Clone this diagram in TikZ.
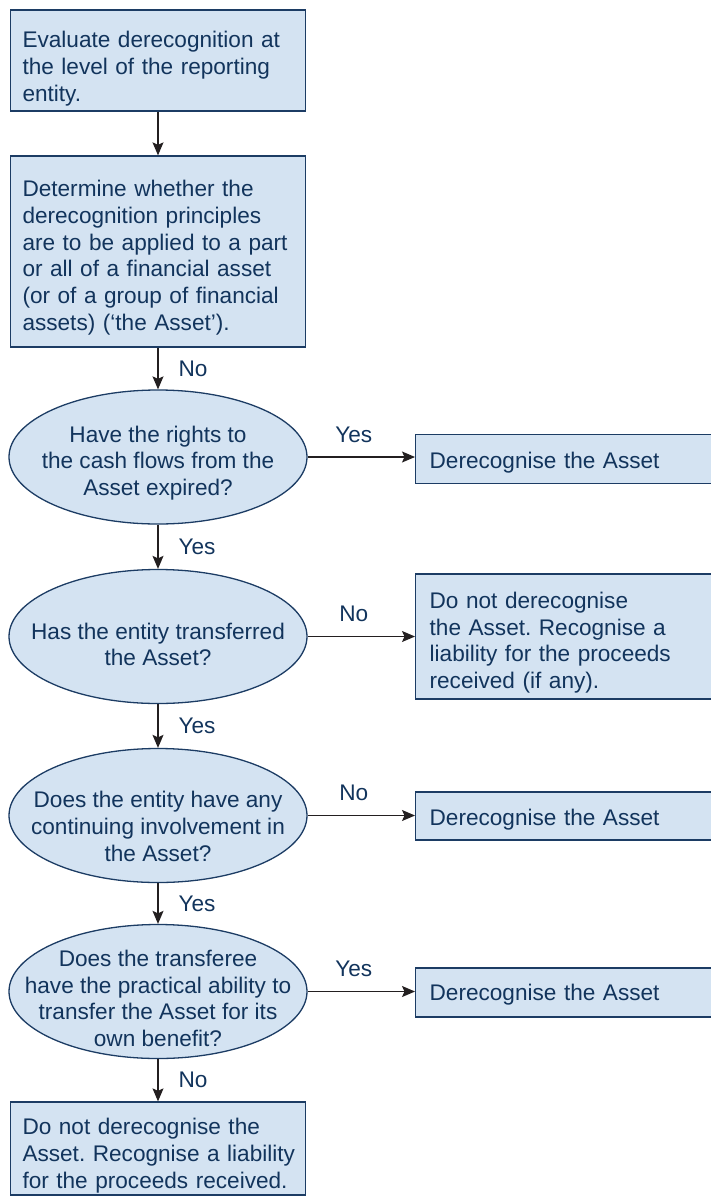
\documentclass[tikz,border=0pt]{standalone}
\usepackage{fontspec}
\setmainfont{Liberation Sans}
\usetikzlibrary{shapes.geometric,arrows.meta}
\definecolor{boxfill}{RGB}{212,227,242}
\definecolor{boxline}{RGB}{28,60,100}
\definecolor{txt}{RGB}{18,52,92}
\definecolor{arrowc}{RGB}{35,31,32}
\begin{document}
\begin{tikzpicture}[x=1pt,y=-1pt,
  every node/.style={font=\fontsize{22.6}{26.7}\selectfont\frenchspacing, text=txt},
  leftbox/.style={draw=boxline, fill=boxfill, line width=1.3pt, rectangle,
    align=left, inner xsep=12pt, inner ysep=0pt, text width=271pt, minimum height=#1},
  rightbox/.style={draw=boxline, fill=boxfill, line width=1.3pt, rectangle, anchor=west,
    align=left, inner xsep=14pt, inner ysep=0pt, text width=272pt, minimum height=#1},
  decision/.style={ellipse, draw=boxline, fill=boxfill, line width=1.3pt,
    minimum width=298pt, minimum height=134pt, inner sep=0pt},
  dectext/.style={align=center, inner sep=0pt},
  arr/.style={draw=arrowc, line width=1.3pt, -{Stealth[length=13pt,width=11pt,inset=2.5pt]}},
  lbl/.style={inner sep=0pt, text=txt}
]
\useasboundingbox (0,0) rectangle (710,1200);

% left column
\node[leftbox=101pt, text height=32.5pt] (b1) at (158,60.5) {Evaluate derecognition at\\the level of the reporting\\entity.};
\node[leftbox=191pt, text height=28.5pt] (b2) at (158,251.5) {Determine whether the\\derecognition principles\\are to be applied to a part\\or all of a financial asset\\(or of a group of financial\\assets) (`the Asset').};
\node[decision] (e1) at (158,457) {};
\node[dectext] (t1) at ([yshift=-6pt]e1.center) {Have the rights to\\the cash flows from the\\Asset expired?};
\node[decision] (e2) at (158,636.5) {};
\node[dectext] (t2) at ([yshift=-8pt]e2.center) {Has the entity transferred\\the Asset?};
\node[decision] (e3) at (158,815.5) {};
\node[dectext] (t3) at ([yshift=-11pt]e3.center) {Does the entity have any\\continuing involvement in\\the Asset?};
\node[decision] (e4) at (158,991.5) {};
\node[dectext] (t4) at ([yshift=-7pt]e4.center) {Does the transferee\\have the practical ability to\\transfer the Asset for its\\own benefit?};
\node[leftbox=93pt, text height=30.5pt] (b3) at (158,1148.5) {Do not derecognise the\\\mbox{Asset. Recognise a liability}\\for the proceeds received.};

% right column
\node[rightbox=49pt, text height=24.5pt] (r1) at (415,459) {Derecognise the Asset};
\node[rightbox=125pt, text height=28.5pt] (r2) at (415,636.5) {Do not derecognise\\the Asset. Recognise a\\liability for the proceeds\\received (if any).};
\node[rightbox=48pt, text height=24.5pt] (r3) at (415,816) {Derecognise the Asset};
\node[rightbox=49pt, text height=20.5pt] (r4) at (415,992.5) {Derecognise the Asset};

% vertical connectors
\draw[arr] (b1.south) -- (b2.north);
\draw[arr] (b2.south) -- node[lbl, midway, right=20pt] {No} (e1.north);
\draw[arr] (e1.south) -- node[lbl, midway, right=20pt] {Yes} (e2.north);
\draw[arr] (e2.south) -- node[lbl, midway, right=20pt] {Yes} (e3.north);
\draw[arr] (e3.south) -- node[lbl, midway, right=20pt] {Yes} (e4.north);
\draw[arr] (e4.south) -- node[lbl, midway, right=20pt] {No} (b3.north);

% horizontal connectors
\draw[arr] (e1.east) -- node[lbl, pos=0.43, above=14pt] {Yes} (e1.east -| r1.west);
\draw[arr] (e2.east) -- node[lbl, pos=0.43, above=14pt] {No} (e2.east -| r2.west);
\draw[arr] (e3.east) -- node[lbl, pos=0.43, above=14pt] {No} (e3.east -| r3.west);
\draw[arr] (e4.east) -- node[lbl, pos=0.43, above=14pt] {Yes} (e4.east -| r4.west);
\end{tikzpicture}
\end{document}
